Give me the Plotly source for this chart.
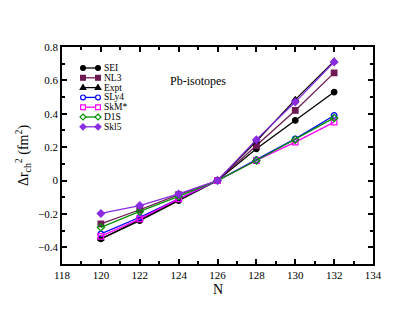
import plotly.graph_objects as go

N = [120, 122, 124, 126, 128, 130, 132]
SEI = [-0.35, -0.24, -0.12, 0.0, 0.19, 0.36, 0.53]
NL3 = [-0.26, -0.175, -0.085, 0.0, 0.21, 0.42, 0.645]
Expt = [-0.35, -0.235, -0.115, 0.0, 0.235, 0.485, 0.715]
SLy4 = [-0.32, -0.22, -0.11, 0.0, 0.125, 0.25, 0.39]
SkMs = [-0.335, -0.23, -0.11, 0.0, 0.12, 0.23, 0.35]
D1S = [-0.28, -0.185, -0.095, 0.0, 0.12, 0.245, 0.375]
Skl5 = [-0.197, -0.15, -0.08, 0.0, 0.245, 0.47, 0.71]

series = [
    ("SEI", SEI, "black", "circle"),
    ("NL3", NL3, "#6e1a52", "square"),
    ("Expt", Expt, "black", "triangle-up"),
    ("SLy4", SLy4, "#0000ff", "circle-open"),
    ("SkM*", SkMs, "#ff00ff", "square-open"),
    ("D1S", D1S, "#009000", "diamond-open"),
    ("Skl5", Skl5, "#8a2be2", "diamond"),
]

W, H = 403, 312
ML, MR, MT, MB = 62, 30, 47, 48
PW, PH = W - ML - MR, H - MT - MB

font = "Liberation Serif, Times New Roman, serif"
fig = go.Figure()
for name, vals, col, sym in series:
    fig.add_trace(go.Scatter(
        x=N, y=vals, name=name, mode="lines+markers", showlegend=False,
        line=dict(color=col, width=1.3),
        marker=dict(symbol=sym, size=5.5, color=col, line=dict(color=col, width=1.3)),
    ))

# custom compact legend (layout decoration)
shapes = []
annotations = [
    dict(text="Pb-isotopes", x=(198 - ML) / PW, y=1 - (72 - MT) / PH,
         xref="paper", yref="paper", showarrow=False,
         font=dict(family=font, size=12, color="black")),
    dict(text="N", x=0.5, y=0, xref="paper", yref="paper", yanchor="middle", yshift=-25,
         borderpad=0, showarrow=False, font=dict(family=font, size=14, color="black")),
]
lx0, lx1, tx = 83, 98, 102
for i, (name, vals, col, sym) in enumerate(series):
    py = 68 + i * 9.8
    yf = 1 - (py - MT) / PH
    xf0 = (lx0 - ML) / PW
    xf1 = (lx1 - ML) / PW
    shapes.append(dict(type="line", xref="paper", yref="paper", x0=xf0, x1=xf1, y0=yf, y1=yf,
                       line=dict(color=col, width=1.3)))
    filled = not sym.endswith("open")
    fill = col if filled else "white"
    base = sym.replace("-open", "")
    for xf in (xf0, xf1):
        common = dict(xref="paper", yref="paper", xsizemode="pixel", ysizemode="pixel",
                      xanchor=xf, yanchor=yf, fillcolor=fill, line=dict(color=col, width=1.2))
        r = 2.4
        if base == "circle":
            shapes.append(dict(type="circle", x0=-r, x1=r, y0=-r, y1=r, **common))
        elif base == "square":
            shapes.append(dict(type="rect", x0=-r, x1=r, y0=-r, y1=r, **common))
        elif base == "triangle-up":
            shapes.append(dict(type="path", path=f"M{-r-0.4},{-r+0.6} L{r+0.4},{-r+0.6} L0,{r+0.6} Z", **common))
        elif base == "diamond":
            shapes.append(dict(type="path", path=f"M0,{r+0.6} L{r+0.6},0 L0,{-r-0.6} L{-r-0.6},0 Z", **common))
    annotations.append(dict(text=name, x=(tx - ML) / PW, y=yf, xref="paper", yref="paper",
                            xanchor="left", yanchor="middle", showarrow=False,
                            font=dict(family=font, size=9.5, color="black")))

fig.update_layout(
    width=W, height=H,
    margin=dict(l=ML, r=MR, t=MT, b=MB),
    paper_bgcolor="white", plot_bgcolor="white",
    font=dict(family=font, size=11, color="black"),
    showlegend=False,
    shapes=shapes,
    annotations=annotations,
)
fig.update_xaxes(range=[118, 134], dtick=2, ticks="inside", ticklen=5, tickwidth=1.5,
                 tickcolor="black",
                 minor=dict(dtick=1, ticks="inside", ticklen=3, tickwidth=1.5, tickcolor="black"),
                 showline=True, linewidth=1.5, linecolor="black", mirror="ticks",
                 showgrid=False, zeroline=False)
fig.update_yaxes(range=[-0.5, 0.8], dtick=0.2, tick0=0, ticks="inside", ticklen=5, tickwidth=1.5,
                 tickcolor="black",
                 minor=dict(dtick=0.1, ticks="inside", ticklen=3, tickwidth=1.5, tickcolor="black"),
                 showline=True, linewidth=1.5, linecolor="black", mirror="ticks",
                 showgrid=False, zeroline=False,
                 title=dict(text="Δr<sub>ch</sub><sup>2</sup> (fm<sup>2</sup>)", font=dict(size=14), standoff=6))
fig.write_html("out.html", config={"displayModeBar": False},
               post_script="document.body.style.margin='0';")
